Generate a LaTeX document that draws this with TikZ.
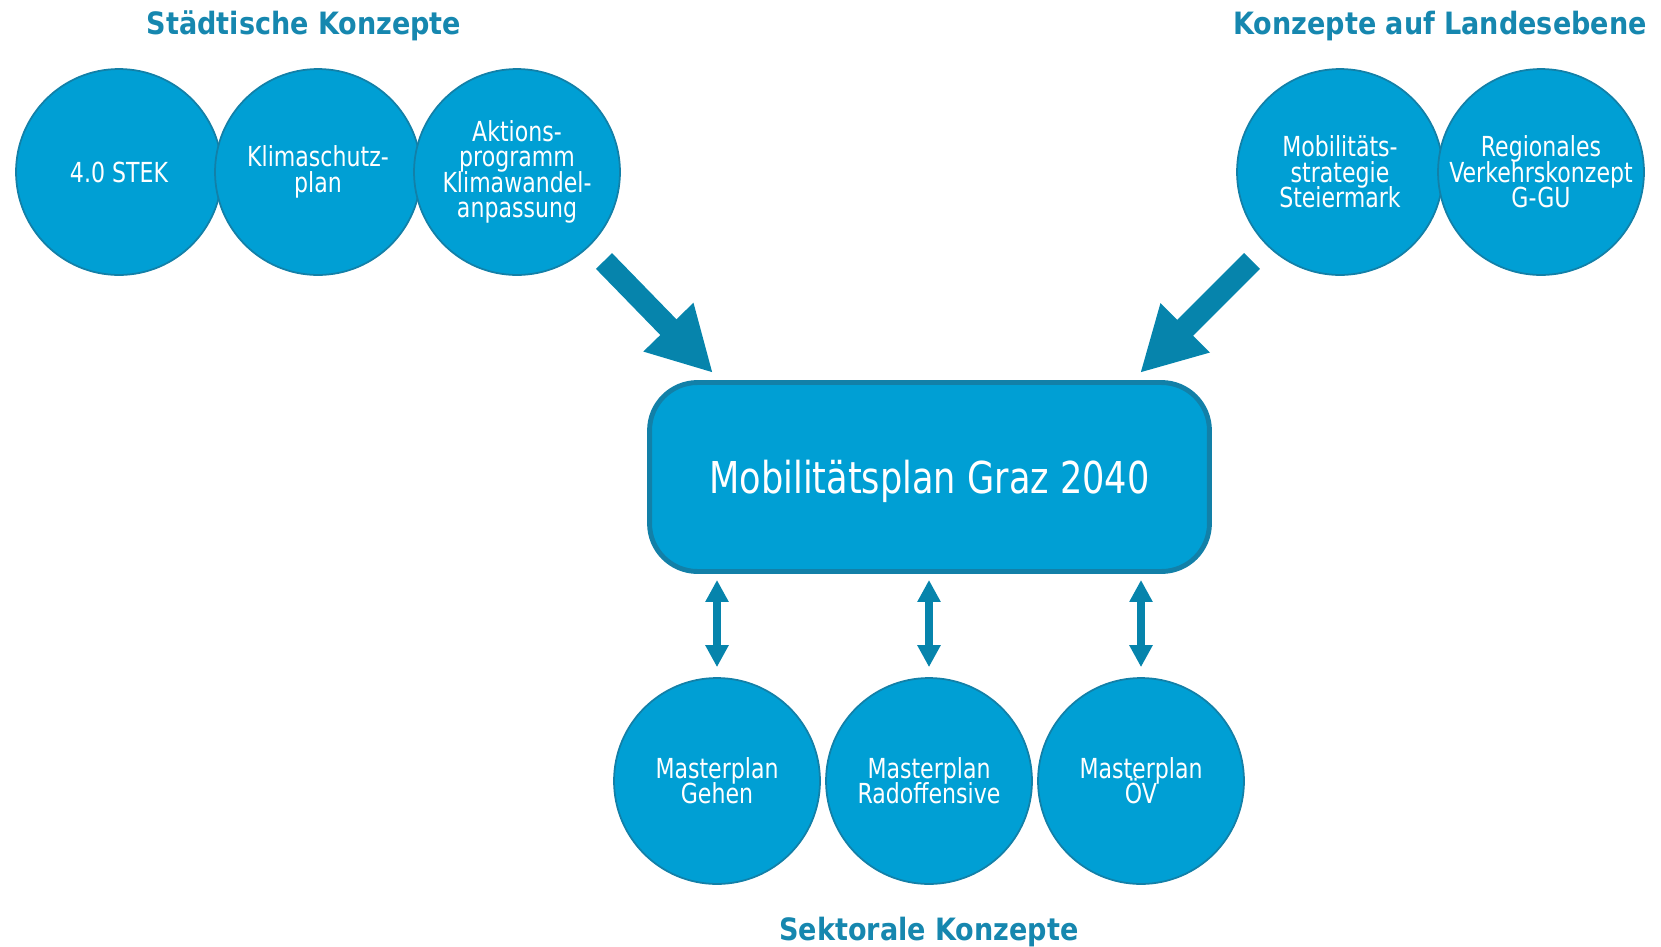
\documentclass[tikz,border=0pt]{standalone}
\usepackage{fontspec}
\usepackage{tikz}
\usetikzlibrary{arrows.meta}
\newfontfamily\circfont[FakeStretch=0.8]{DejaVu Sans}
\newfontfamily\headfont[FakeStretch=0.88]{DejaVu Sans}
\newcommand\tightlines{\lineskiplimit=-20pt\relax}
\definecolor{circblue}{RGB}{0,159,212}
\definecolor{rimblue}{RGB}{18,128,168}
\definecolor{arrowblue}{RGB}{6,132,172}
\definecolor{headblue}{RGB}{22,135,175}
\tikzset{
	konzept/.style={circle, draw=rimblue, line width=1pt, fill=circblue, minimum size=4.12cm, inner sep=0pt, text=white, align=center, font=\circfont\fontsize{15.7}{14.4}\selectfont\tightlines},
	planbox/.style={rectangle, rounded corners=0.96cm, draw=rimblue, line width=2.8pt, fill=circblue, minimum width=11.2cm, minimum height=3.78cm, text=white, text depth=0pt, font=\circfont\fontsize{25}{30}\selectfont},
	heading/.style={text=headblue, font=\headfont\bfseries\fontsize{17.5}{20}\selectfont},
	bigarrow/.style={draw=arrowblue, line width=0.45cm, -{Triangle[length=1.28cm, width=1.3cm]}},
	twoway/.style={draw=arrowblue, line width=0.15cm, {Triangle[length=0.44cm, width=0.44cm]}-{Triangle[length=0.44cm, width=0.44cm]}}
}
\begin{document}
\begin{tikzpicture}[x=0.02cm, y=-0.02cm]
\useasboundingbox (0,0) rectangle (1661,947);

% headings
\node[heading] (hstadt) at (304,26) {Städtische Konzepte};
\node[heading] (hland) at (1440,26) {Konzepte auf Landesebene};
\node[heading] (hsektor) at (929,932) {Sektorale Konzepte};

% city concepts
\node[konzept] (stek) at (119,172) {4.0 STEK};
\node[konzept] (klima) at (318,172) {Klimaschutz-\\plan};
\node[konzept] (aktion) at (517,172) {Aktions-\\programm\\Klimawandel-\\anpassung};

% state concepts
\node[konzept] (strategie) at (1340,172) {Mobilitäts-\\strategie\\Steiermark};
\node[konzept] (regional) at (1541,172) {Regionales\\Verkehrskonzept\\G-GU};

% the plan
\node[planbox] (plan) at (929.5,477) {Mobilitätsplan Graz 2040};

% sector concepts
\node[konzept] (gehen) at (717,781) {Masterplan\\Gehen};
\node[konzept] (rad) at (929,781) {Masterplan\\Radoffensive};
\node[konzept] (oev) at (1141,781) {Masterplan\\ÖV};

% inputs
\coordinate (fromstadt) at (604,261);
\coordinate (tostadt) at (713,373);
\coordinate (fromland) at (1252,261);
\coordinate (toland) at (1140,373);
\draw[bigarrow] (fromstadt) -- (tostadt);
\draw[bigarrow] (fromland) -- (toland);

% exchange with sector concepts
\foreach \s in {gehen,rad,oev}
{
	\draw[twoway, shorten <=6*0.02cm, shorten >=10*0.02cm] (plan.south -| \s) -- (\s.north);
}
\end{tikzpicture}
\end{document}
